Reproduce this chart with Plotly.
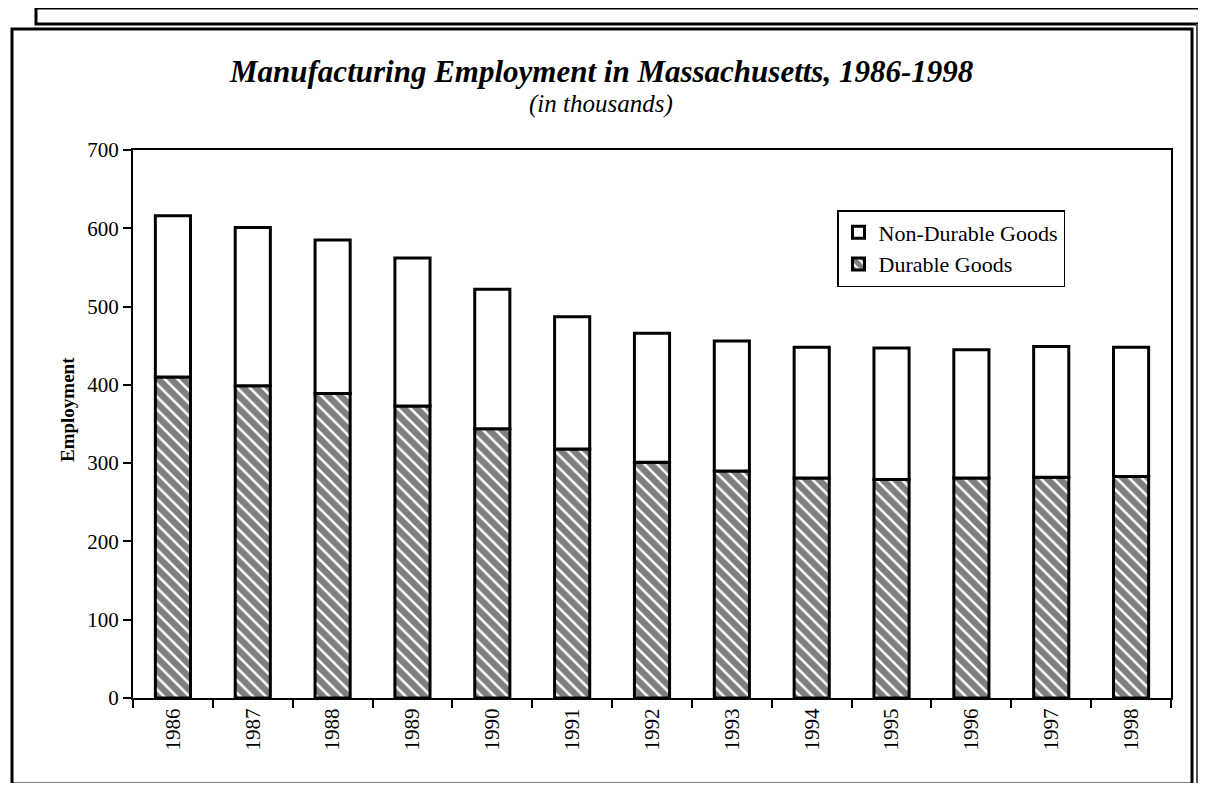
import plotly.graph_objects as go

years = ["1986", "1987", "1988", "1989", "1990", "1991", "1992",
         "1993", "1994", "1995", "1996", "1997", "1998"]
total = [616, 601, 585, 562, 522, 487, 466, 456, 448, 447, 445, 449, 448]
durable = [410, 399, 389, 373, 344, 318, 301, 290, 281, 279, 281, 282, 283]
non_durable = [t - d for t, d in zip(total, durable)]

# page has an 8px body margin; work in page pixels and convert
OFF = 8
W, H = 1206 - 2 * OFF, 791 - 2 * OFF
L, R, T, B = 133 - OFF, 1171 - OFF, 150 - OFF, 698 - OFF
SERIF = "Liberation Serif, Times New Roman, serif"


def px(x):
    return (x - OFF - L) / (R - L)


def py(y):
    return (B - (y - OFF)) / (B - T)


fig = go.Figure()
fig.add_trace(go.Bar(
    x=years, y=durable, name="Durable Goods",
    marker=dict(color="white",
                line=dict(color="black", width=3),
                pattern=dict(shape="\\", fgcolor="black", bgcolor="white",
                             size=9, solidity=0.72, fillmode="overlay")),
    width=0.44,
))
fig.add_trace(go.Bar(
    x=years, y=non_durable, base=durable, name="Non-Durable Goods",
    marker=dict(color="white", line=dict(color="black", width=3)),
    width=0.44,
))

fig.update_layout(
    width=W, height=H,
    margin=dict(l=L, r=W - R, t=T, b=H - B),
    paper_bgcolor="white", plot_bgcolor="white",
    barmode="overlay",
    showlegend=True,
    font=dict(family=SERIF, color="black", size=21),
    legend=dict(x=px(837), y=py(210), xanchor="left", yanchor="top",
                bordercolor="black", borderwidth=1.5, bgcolor="white",
                traceorder="reversed", font=dict(size=22, family=SERIF),
                itemwidth=30, tracegroupgap=0),
    xaxis=dict(type="category", showline=True, linecolor="black", linewidth=2,
               mirror=True, ticks="outside", ticklen=8, tickwidth=1.5,
               tickcolor="black", tickson="boundaries", tickangle=-90,
               tickfont=dict(size=21, family=SERIF), showgrid=False,
               zeroline=False),
    yaxis=dict(range=[0, 700], dtick=100, showline=True, linecolor="black",
               linewidth=2, mirror=True, ticks="outside", ticklen=8,
               tickwidth=1.5, tickcolor="black", showgrid=False,
               zeroline=False, tickfont=dict(size=21, family=SERIF)),
)

annotations = [
    dict(text="<b><i>Manufacturing Employment in Massachusetts, 1986-1998</i></b>",
         x=px(601), y=py(72), font=dict(size=31, family=SERIF)),
    dict(text="<i>(in thousands)</i>",
         x=px(601), y=py(104), font=dict(size=25, family=SERIF)),
    dict(text="<b>Employment</b>", textangle=-90,
         x=px(67), y=py(410), font=dict(size=19, family=SERIF)),
]
for a in annotations:
    a.update(xref="paper", yref="paper", showarrow=False,
             xanchor="center", yanchor="middle")
    fig.add_annotation(**a)

# outer frame and back sheet
shapes = [
    dict(type="rect", x0=px(36), x1=px(1220), y0=py(8), y1=py(24),
         line=dict(color="black", width=3), fillcolor="white"),
    dict(type="rect", x0=px(12), x1=px(1192), y0=py(29), y1=py(784),
         line=dict(color="black", width=3), fillcolor="rgba(0,0,0,0)"),
    dict(type="rect", x0=px(1196), x1=px(1210), y0=py(24), y1=py(800),
         line=dict(width=0), fillcolor="#555555"),
]
for s in shapes:
    s.update(xref="paper", yref="paper", layer="below")
    fig.add_shape(**s)

fig.write_html("out.html")
